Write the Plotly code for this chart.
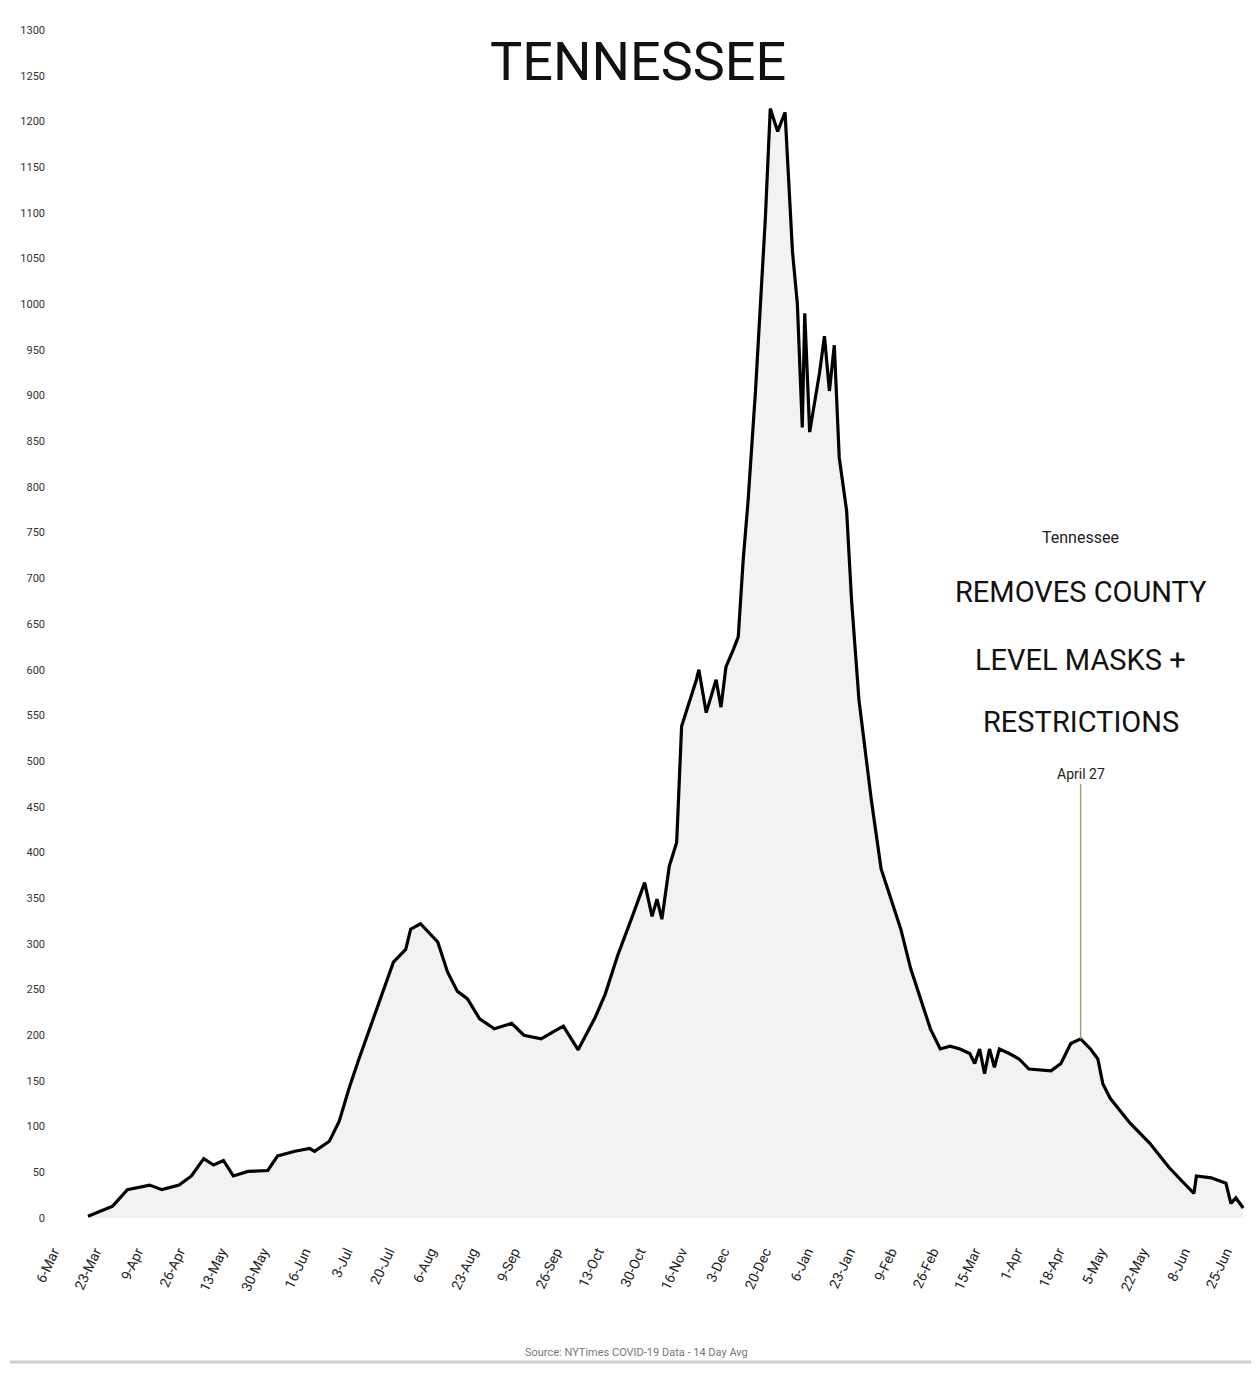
import plotly.graph_objects as go

# ---- data (14-day avg) ----
dates = [
    "2020-03-20", "2020-03-30", "2020-04-05", "2020-04-14", "2020-04-19", "2020-04-26",
    "2020-05-01", "2020-05-06", "2020-05-10", "2020-05-14", "2020-05-18", "2020-05-24",
    "2020-06-01", "2020-06-05", "2020-06-12", "2020-06-18", "2020-06-20", "2020-06-26",
    "2020-06-30", "2020-07-04", "2020-07-08", "2020-07-12", "2020-07-17", "2020-07-22",
    "2020-07-27", "2020-07-29", "2020-08-02", "2020-08-05", "2020-08-09", "2020-08-13",
    "2020-08-17", "2020-08-21", "2020-08-26", "2020-09-01", "2020-09-08", "2020-09-13",
    "2020-09-20", "2020-09-25", "2020-09-29", "2020-10-05", "2020-10-12", "2020-10-16",
    "2020-10-21", "2020-10-27", "2020-11-01", "2020-11-04", "2020-11-06", "2020-11-08",
    "2020-11-11", "2020-11-14", "2020-11-16", "2020-11-22", "2020-11-23", "2020-11-26",
    "2020-11-30", "2020-12-02", "2020-12-04", "2020-12-07", "2020-12-09", "2020-12-11",
    "2020-12-13", "2020-12-16", "2020-12-20", "2020-12-22", "2020-12-25", "2020-12-28",
    "2020-12-31", "2021-01-02", "2021-01-04", "2021-01-05", "2021-01-07", "2021-01-11",
    "2021-01-13", "2021-01-15", "2021-01-17", "2021-01-19", "2021-01-22", "2021-01-24",
    "2021-01-27", "2021-02-01", "2021-02-05", "2021-02-09", "2021-02-13", "2021-02-17",
    "2021-02-21", "2021-02-25", "2021-03-01", "2021-03-05", "2021-03-09", "2021-03-13",
    "2021-03-15", "2021-03-17", "2021-03-19", "2021-03-21", "2021-03-23", "2021-03-25",
    "2021-03-29", "2021-04-02", "2021-04-06", "2021-04-15", "2021-04-19", "2021-04-23",
    "2021-04-27", "2021-05-01", "2021-05-04", "2021-05-06", "2021-05-09", "2021-05-17",
    "2021-05-25", "2021-06-02", "2021-06-08", "2021-06-12", "2021-06-13", "2021-06-19",
    "2021-06-25", "2021-06-27", "2021-06-29", "2021-07-02",
]
values = [
    2, 13, 31, 36, 31, 36,
    46, 65, 58, 63, 46, 51,
    52, 68, 73, 76, 73, 84,
    106, 142, 174, 204, 240, 280,
    294, 316, 322, 313, 302, 269,
    248, 240, 218, 207, 213, 200,
    196, 204, 210, 184, 220, 245,
    287, 330, 367, 330, 349, 327,
    385, 411, 538, 589, 600, 553,
    589, 559, 603, 622, 636, 720,
    785, 905, 1094, 1214, 1189, 1210,
    1058, 1000, 865, 990, 860, 925,
    965, 905, 955, 832, 774, 676,
    567, 458, 382, 349, 316, 273,
    240, 207, 185, 188, 185, 180,
    169, 185, 158, 185, 165, 185,
    180, 174, 163, 161, 169, 191,
    196, 185, 174, 147, 131, 104,
    82, 55, 38, 27, 46, 44,
    38, 16, 22, 11,
]

tick_dates = [
    "2020-03-06", "2020-03-23", "2020-04-09", "2020-04-26", "2020-05-13", "2020-05-30",
    "2020-06-16", "2020-07-03", "2020-07-20", "2020-08-06", "2020-08-23", "2020-09-09",
    "2020-09-26", "2020-10-13", "2020-10-30", "2020-11-16", "2020-12-03", "2020-12-20",
    "2021-01-06", "2021-01-23", "2021-02-09", "2021-02-26", "2021-03-15", "2021-04-01",
    "2021-04-18", "2021-05-05", "2021-05-22", "2021-06-08", "2021-06-25",
]
tick_labels = [
    "6-Mar", "23-Mar", "9-Apr", "26-Apr", "13-May", "30-May",
    "16-Jun", "3-Jul", "20-Jul", "6-Aug", "23-Aug", "9-Sep",
    "26-Sep", "13-Oct", "30-Oct", "16-Nov", "3-Dec", "20-Dec",
    "6-Jan", "23-Jan", "9-Feb", "26-Feb", "15-Mar", "1-Apr",
    "18-Apr", "5-May", "22-May", "8-Jun", "25-Jun",
]
y_ticks = list(range(0, 1301, 50))

event_date = "2021-04-27"
event_value = 196
event_line_top = 475

FONT = "Roboto, Liberation Sans, sans-serif"

fig = go.Figure()
fig.add_trace(go.Scatter(
    x=dates, y=values, mode="lines",
    line=dict(color="#000000", width=3.2),
    fill="tozeroy", fillcolor="rgba(0,0,0,0.05)",
    hoverinfo="x+y", showlegend=False,
))

fig.add_shape(type="line", xref="x", yref="y",
              x0=event_date, x1=event_date, y0=event_value, y1=event_line_top,
              line=dict(color="#a89884", width=1.5))

fig.add_annotation(x=event_date, y=745, text="Tennessee", showarrow=False,
                   font=dict(family=FONT, size=16, color="#222222"))
fig.add_annotation(x=event_date, y=685, text="REMOVES COUNTY", showarrow=False,
                   font=dict(family=FONT, size=29, color="#111111"))
fig.add_annotation(x=event_date, y=611, text="LEVEL MASKS +", showarrow=False,
                   font=dict(family=FONT, size=29, color="#111111"))
fig.add_annotation(x=event_date, y=543, text="RESTRICTIONS", showarrow=False,
                   font=dict(family=FONT, size=29, color="#111111"))
fig.add_annotation(x=event_date, y=486, text="April 27", showarrow=False,
                   font=dict(family=FONT, size=14, color="#222222"))

fig.add_annotation(xref="paper", yref="paper", x=0.491, y=1.0, yanchor="middle",
                   yshift=-31, text="TENNESSEE", showarrow=False,
                   font=dict(family=FONT, size=54, color="#111111"))

fig.add_annotation(xref="paper", yref="paper", x=0.49, y=0, yanchor="top",
                   yshift=-126, text="Source: NYTimes COVID-19 Data - 14 Day Avg",
                   showarrow=False,
                   font=dict(family=FONT, size=11, color="#777777"))

# faint bottom border line of the original image
fig.add_shape(type="line", xref="paper", yref="paper", ysizemode="pixel",
              yanchor=0, x0=-0.03, x1=1.0, y0=-144, y1=-144,
              line=dict(color="#d0d0d0", width=3))

fig.update_xaxes(
    type="date", automargin=False,
    range=["2020-03-02 23:00", "2021-07-05 04:00"],
    tickvals=tick_dates, ticktext=tick_labels,
    tickangle=-65, ticklabelstandoff=22,
    showgrid=False, zeroline=False, showline=False,
    ticks="", tickfont=dict(family=FONT, size=14, color="#222222"),
)
fig.update_yaxes(
    range=[0, 1300], tickvals=y_ticks, automargin=False,
    showgrid=False, zeroline=False, showline=False, ticks="",
    tickfont=dict(family=FONT, size=11, color="#333333"),
)

fig.update_layout(
    width=1259, height=1374,
    margin=dict(l=46, r=8, t=30, b=156),
    plot_bgcolor="white", paper_bgcolor="white",
    showlegend=False,
)

fig.write_html("out.html",
               config={"displayModeBar": False},
               post_script="document.body.style.margin='0';document.body.style.overflow='hidden';")
